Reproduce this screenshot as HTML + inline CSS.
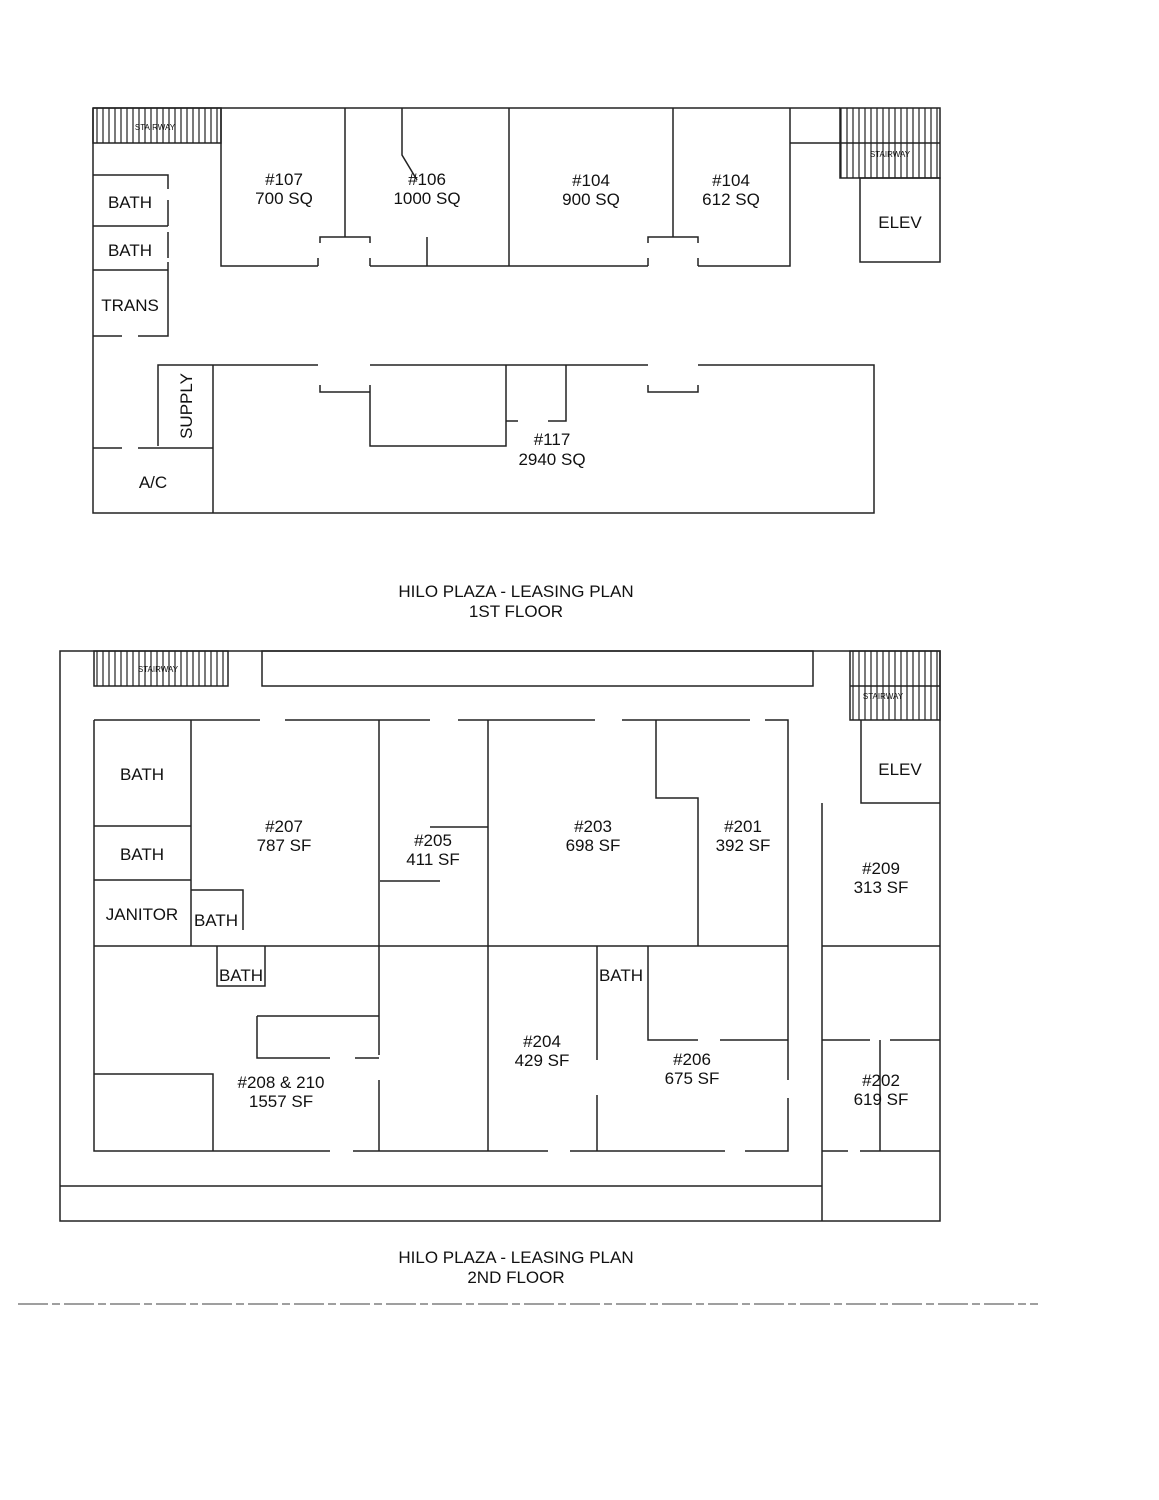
<!DOCTYPE html>
<html><head><meta charset="utf-8"><style>
html,body{margin:0;padding:0;background:#fff}
svg{display:block}
text{font-family:"Liberation Sans",sans-serif;fill:#111}
</style></head><body>
<svg width="1159" height="1500" viewBox="0 0 1159 1500" xmlns="http://www.w3.org/2000/svg">
<defs>
<pattern id="h" width="6" height="10" patternUnits="userSpaceOnUse"><line x1="1" y1="0" x2="1" y2="10" stroke="#222" stroke-width="1.2"/></pattern>
</defs>
<g stroke="#222" stroke-width="1.5" fill="none">
<!-- FIRST FLOOR -->
<rect x="93" y="108" width="128" height="35" fill="url(#h)"/>
<rect x="840" y="108" width="100" height="70" fill="url(#h)"/>
<line x1="840" y1="143" x2="940" y2="143"/>
<path d="M93 108H840M93 108V513H874V365H698M648 365H370M318 365H158V446"/>
<path d="M790 108V266H698M648 266H370M318 266H221V108"/>
<path d="M790 143H840"/>
<path d="M345 108V237M320 243V237H370V243M318 258V266M370 258V266"/>
<path d="M402 108V155L417 180M427 237V266M509 108V266M673 108V237M648 243V237H698V243M648 258V266M698 258V266"/>
<rect x="860" y="178" width="80" height="84"/>
<path d="M93 175H168V189M168 200V226M93 226H168M168 232V258M168 262V270M93 270H168V336H138M122 336H93"/>
<path d="M93 448H122M138 448H213V513M213 365V513"/>
<path d="M320 385V392H370V385M648 385V392H698V385M370 392V446H506V365M506 421H518M548 421H566V365"/>
<!-- SECOND FLOOR -->
<rect x="60" y="651" width="880" height="570"/>
<rect x="94" y="651" width="134" height="35" fill="url(#h)"/>
<rect x="262" y="651" width="551" height="35"/>
<rect x="850" y="651" width="90" height="69" fill="url(#h)"/>
<line x1="850" y1="686" x2="940" y2="686"/>
<path d="M861 720V803H940"/>
<path d="M94 720H260M285 720H430M458 720H595M622 720H750M765 720H788V1080M788 1098V1151H745M725 1151H570M548 1151H353M330 1151H94V720"/>
<path d="M60 1186H822M822 803V1221"/>
<path d="M191 720V946M94 826H191M94 880H191M191 890H243V930"/>
<path d="M94 946H788M822 946H940M822 1040H870M890 1040H940M880 1040V1151M822 1151H848M860 1151H940"/>
<path d="M379 720V946M379 946V1055M379 1080V1151M488 720V1151M430 827H488M380 881H440"/>
<path d="M656 720V798H698V946M597 946V1060M597 1095V1151M648 946V1040H698M720 1040H788"/>
<path d="M217 946V986H265V946M257 1016V1058H330M355 1058H379M257 1016H379"/>
<path d="M94 1074H213V1151"/>
</g>
<g stroke="#666" stroke-width="1.2" stroke-dasharray="30 4 8 4">
<line x1="18" y1="1304" x2="1038" y2="1304"/>
</g>
<g font-size="17" text-anchor="middle">
<text x="130" y="208">BATH</text>
<text x="130" y="256">BATH</text>
<text x="130" y="311">TRANS</text>
<text x="153" y="488">A/C</text>
<text x="192" y="406" transform="rotate(-90 192 406)">SUPPLY</text>
<text x="284" y="185">#107</text><text x="284" y="204">700 SQ</text>
<text x="427" y="185">#106</text><text x="427" y="204">1000 SQ</text>
<text x="591" y="186">#104</text><text x="591" y="205">900 SQ</text>
<text x="731" y="186">#104</text><text x="731" y="205">612 SQ</text>
<text x="900" y="228">ELEV</text>
<text x="552" y="445">#117</text><text x="552" y="465">2940 SQ</text>
<text x="516" y="597">HILO PLAZA - LEASING PLAN</text>
<text x="516" y="617">1ST FLOOR</text>
<text x="142" y="780">BATH</text>
<text x="142" y="860">BATH</text>
<text x="142" y="920">JANITOR</text>
<text x="216" y="926">BATH</text>
<text x="241" y="981">BATH</text>
<text x="621" y="981">BATH</text>
<text x="284" y="832">#207</text><text x="284" y="851">787 SF</text>
<text x="433" y="846">#205</text><text x="433" y="865">411 SF</text>
<text x="593" y="832">#203</text><text x="593" y="851">698 SF</text>
<text x="743" y="832">#201</text><text x="743" y="851">392 SF</text>
<text x="900" y="775">ELEV</text>
<text x="881" y="874">#209</text><text x="881" y="893">313 SF</text>
<text x="542" y="1047">#204</text><text x="542" y="1066">429 SF</text>
<text x="692" y="1065">#206</text><text x="692" y="1084">675 SF</text>
<text x="281" y="1088">#208 &amp; 210</text><text x="281" y="1107">1557 SF</text>
<text x="881" y="1086">#202</text><text x="881" y="1105">619 SF</text>
<text x="516" y="1263">HILO PLAZA - LEASING PLAN</text>
<text x="516" y="1283">2ND FLOOR</text>
</g>
<g font-size="8" text-anchor="middle">
<text x="155" y="130">STAIRWAY</text>
<text x="890" y="157">STAIRWAY</text>
<text x="158" y="672">STAIRWAY</text>
<text x="883" y="699">STAIRWAY</text>
</g>
</svg>
</body></html>
